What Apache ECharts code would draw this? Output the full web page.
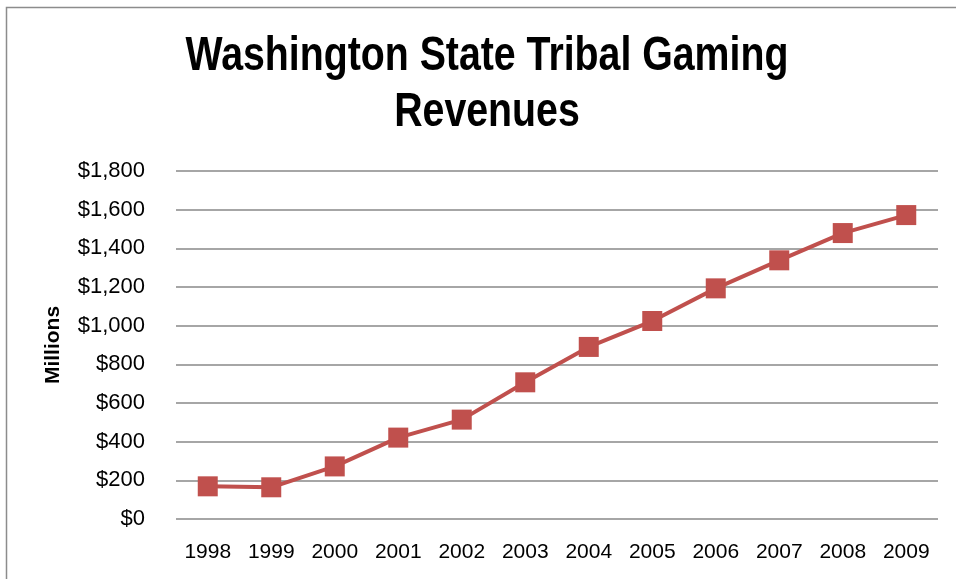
<!DOCTYPE html>
<html>
<head>
<meta charset="utf-8">
<script src="https://cdn.jsdelivr.net/npm/echarts@6/dist/echarts.min.js"></script>
<style>
html,body{margin:0;padding:0;background:#fff;}
#c{width:956px;height:579px;}
</style>
</head>
<body>
<div id="c"></div>
<script>
const years = ['1998','1999','2000','2001','2002','2003','2004','2005','2006','2007','2008','2009'];
const revenues = [169, 164, 272, 421, 514, 707, 890, 1024, 1193, 1338, 1479, 1572];
const titleLines = ['Washington State Tribal Gaming', 'Revenues'];
const yAxisName = 'Millions';

const FONT = '"Liberation Sans", Arial, sans-serif';
const chart = echarts.init(document.getElementById('c'), null, {renderer: 'canvas'});
chart.setOption({
  backgroundColor: '#fff',
  animation: false,
  graphic: [{
    type: 'rect',
    shape: {x: 6.5, y: 7.5, width: 1000, height: 1000},
    style: {fill: 'none', stroke: '#8c8c8c', lineWidth: 1.5},
    silent: true
  }, {
    type: 'text',
    x: 487, y: 57, scaleX: 0.818,
    style: {text: titleLines[0], fill: '#000', font: 'bold 48px ' + FONT, textAlign: 'center', textVerticalAlign: 'middle'},
    silent: true
  }, {
    type: 'text',
    x: 487, y: 113, scaleX: 0.818,
    style: {text: titleLines[1], fill: '#000', font: 'bold 48px ' + FONT, textAlign: 'center', textVerticalAlign: 'middle'},
    silent: true
  }],
  grid: {left: 176, right: 18, top: 171, bottom: 60, containLabel: false},
  xAxis: {
    type: 'category',
    data: years,
    boundaryGap: true,
    axisLine: {show: false},
    axisTick: {show: false},
    axisLabel: {fontFamily: FONT, fontSize: 21, color: '#000', margin: 23, interval: 0}
  },
  yAxis: {
    type: 'value',
    min: 0, max: 1800, interval: 200,
    name: yAxisName,
    nameLocation: 'middle',
    nameRotate: 90,
    nameGap: 112,
    nameTextStyle: {fontFamily: FONT, fontWeight: 'bold', fontSize: 21, color: '#000'},
    axisLine: {show: false},
    axisTick: {show: false},
    axisLabel: {
      fontFamily: FONT, fontSize: 22, color: '#000', margin: 31,
      formatter: v => '$' + v.toLocaleString('en-US')
    },
    splitLine: {lineStyle: {color: '#888', width: 1.5}}
  },
  series: [{
    type: 'line',
    data: revenues,
    symbol: 'rect',
    symbolSize: 20,
    lineStyle: {color: '#C0504D', width: 4},
    itemStyle: {color: '#C0504D'}
  }]
});
</script>
</body>
</html>
